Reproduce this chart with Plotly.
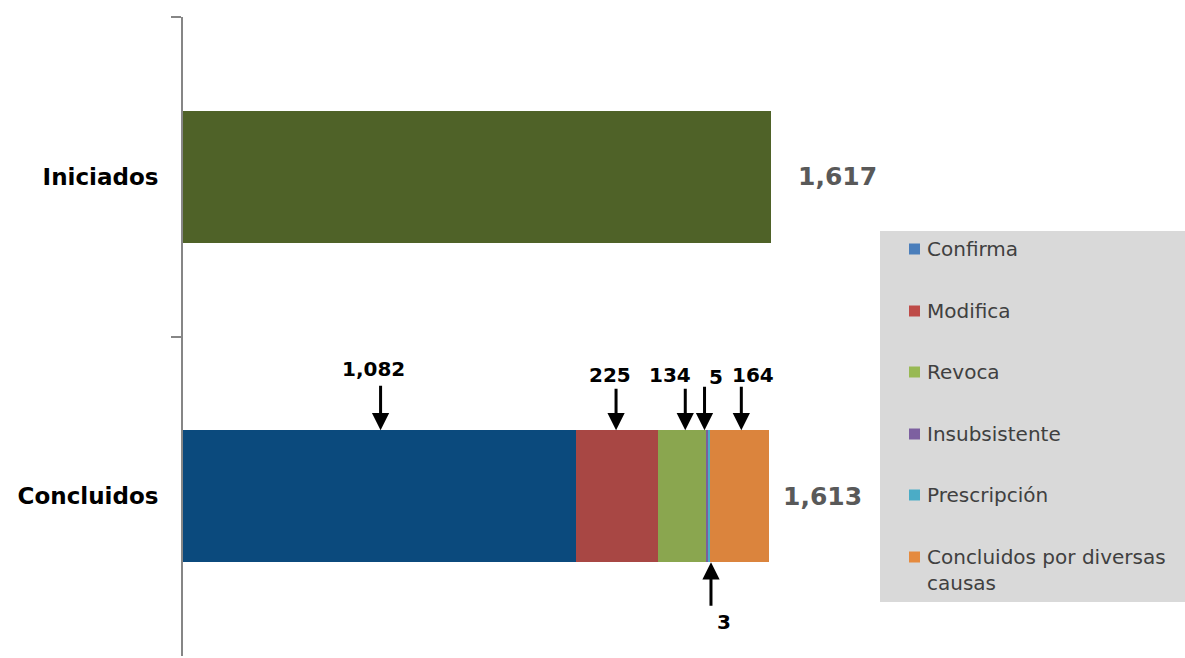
import plotly.graph_objects as go

# ---- data ----
categories = ["Iniciados", "Concluidos"]
iniciados_total = 1617
series_names = ["Confirma", "Modifica", "Revoca", "Insubsistente",
                "Prescripción", "Concluidos por diversas causas"]
series_values = [1082, 225, 134, 5, 3, 164]

# ---- styling ----
iniciados_color = "#4F6228"
bar_colors = ["#0B4A7D", "#A84744", "#8AA64F", "#7B5E9B", "#4BACC6", "#DB843D"]
legend_colors = ["#4A7EBB", "#BE4B48", "#98B954", "#7D60A0", "#4BACC6", "#E58A3E"]
legend_labels = ["Confirma", "Modifica", "Revoca", "Insubsistente",
                 "Prescripción", "Concluidos por diversas<br>causas"]

W, H = 1185, 658
ML, MR, MT, MB = 183, 2, 17, 2
PLOT_W = W - ML - MR
PLOT_H = H - MT - MB
X_MAX = 2752
BAR_WIDTH = 0.413


def px_x(px):
    return (px - ML) / PLOT_W


def px_y(py):
    return (H - MB - py) / PLOT_H


fig = go.Figure()

fig.add_trace(go.Bar(
    x=[iniciados_total], y=[categories[0]], orientation="h",
    marker=dict(color=iniciados_color, line=dict(width=0)),
    width=BAR_WIDTH, showlegend=False, hoverinfo="skip",
))

for name, val, col in zip(series_names, series_values, bar_colors):
    fig.add_trace(go.Bar(
        x=[val], y=[categories[1]], orientation="h", name=name,
        marker=dict(color=col, line=dict(width=0)),
        width=BAR_WIDTH, showlegend=False, hoverinfo="skip",
    ))

annotations = []

# totals to the right of each bar
concluidos_total = sum(series_values)
for cat, total, shift in [(categories[0], iniciados_total, 25),
                          (categories[1], concluidos_total, 12)]:
    annotations.append(dict(
        x=total, y=cat, xref="x", yref="y", text=f"{total:,}",
        showarrow=False, xanchor="left", yanchor="middle", xshift=shift,
        font=dict(family="DejaVu Sans", size=25, color="#595959", weight="bold"),
    ))

# arrow callouts for each segment: (arrow x-shift, arrow length, text dx, text dy, side)
callout_style = [
    (1, 46, -6, -61, "top"),
    (-1, 43, -7, -55, "top"),
    (3, 43, -12, -55, "top"),
    (-3, 45, 8, -53, "top"),
    (2, 45, 15, 60, "bottom"),
    (2, 45, 14, -55, "top"),
]
cum = 0
top_edge = 1 - BAR_WIDTH / 2
bottom_edge = 1 + BAR_WIDTH / 2
for val, (ashift, alen, tdx, tdy, side) in zip(series_values, callout_style):
    mid = cum + val / 2
    cum += val
    tip_y = top_edge if side == "top" else bottom_edge
    ay = -alen if side == "top" else alen
    annotations.append(dict(
        x=mid, y=tip_y, xref="x", yref="y", text="", showarrow=True,
        ax=0, ay=ay, arrowhead=2, arrowsize=1.15, arrowwidth=3,
        arrowcolor="#000000", standoff=0, startstandoff=0, xshift=ashift,
    ))
    annotations.append(dict(
        x=mid, y=tip_y, xref="x", yref="y", text=f"{val:,}", showarrow=False,
        xanchor="center", yanchor="middle", xshift=tdx, yshift=-tdy,
        font=dict(family="DejaVu Sans", size=20, color="#000000", weight="bold"),
    ))

# legend panel
shapes = [dict(
    type="rect", xref="paper", yref="paper",
    x0=px_x(880), x1=px_x(1185), y0=px_y(602), y1=px_y(231),
    fillcolor="#D9D9D9", line=dict(width=0), layer="above",
)]
legend_y = [249, 311, 372, 434, 495, 557]
for lab, col, cy in zip(legend_labels, legend_colors, legend_y):
    shapes.append(dict(
        type="rect", xref="paper", yref="paper",
        x0=px_x(909), x1=px_x(920), y0=px_y(cy + 5.5), y1=px_y(cy - 5.5),
        fillcolor=col, line=dict(width=0), layer="above",
    ))
    multi = "<br>" in lab
    annotations.append(dict(
        x=px_x(925), y=px_y(cy - 14 if multi else cy), xref="paper", yref="paper",
        text=lab, showarrow=False, xanchor="left",
        yanchor="top" if multi else "middle", align="left",
        font=dict(family="DejaVu Sans", size=20, color="#404040"),
    ))

fig.update_layout(
    width=W, height=H, barmode="stack",
    margin=dict(l=ML, r=MR, t=MT, b=MB, pad=0),
    paper_bgcolor="white", plot_bgcolor="white",
    showlegend=False,
    xaxis=dict(visible=False, range=[0, X_MAX], fixedrange=True),
    yaxis=dict(
        type="category", categoryorder="array", categoryarray=categories,
        range=[1.5, -0.5], showline=True, linecolor="#868686", linewidth=2,
        ticks="outside", ticklen=10, tickwidth=2, tickcolor="#868686",
        tickson="boundaries", showgrid=False, zeroline=False,
        ticklabelstandoff=18,
        tickfont=dict(family="DejaVu Sans", size=23, color="#000000", weight="bold"),
    ),
    annotations=annotations, shapes=shapes,
)

fig.write_html("out.html", config={"displayModeBar": False})
